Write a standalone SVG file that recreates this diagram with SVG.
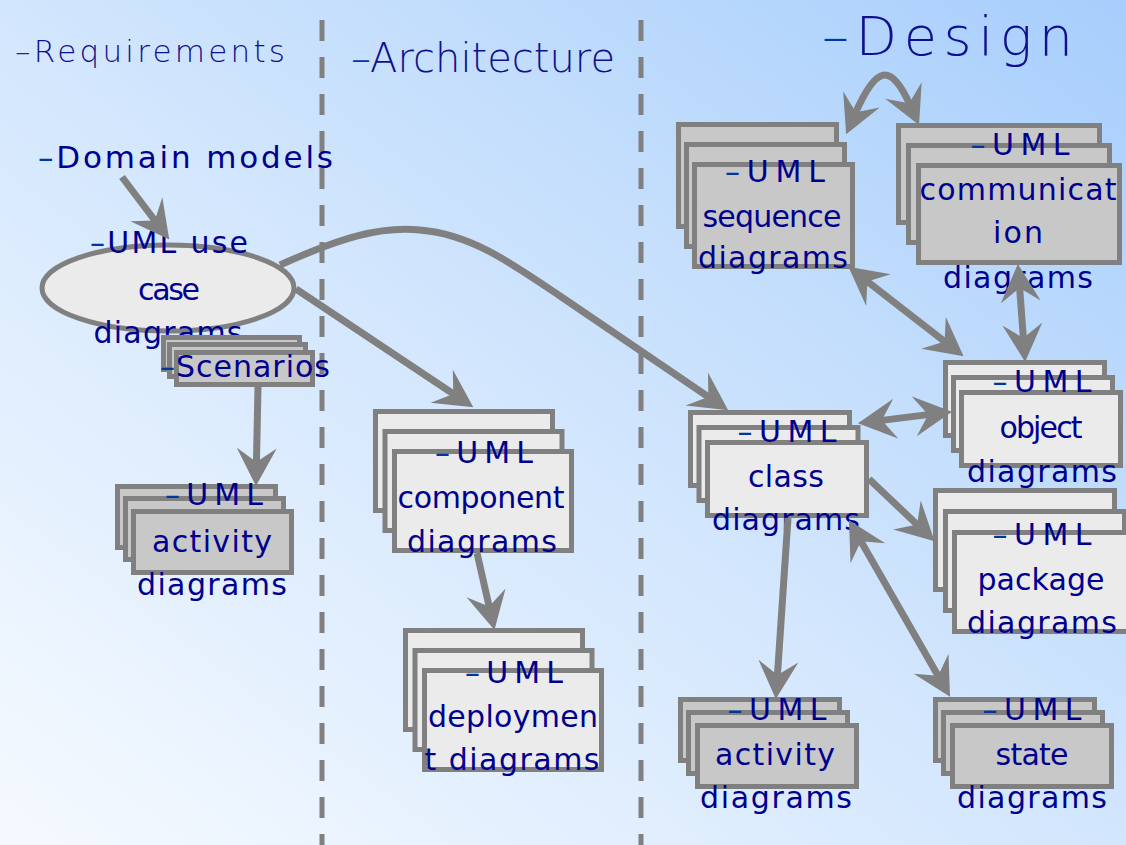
<svg xmlns="http://www.w3.org/2000/svg" width="1126" height="845" viewBox="0 0 1126 845">
  <defs>
    <linearGradient id="bg" x1="0" y1="1" x2="1" y2="0">
      <stop offset="0" stop-color="#f6faff"/>
      <stop offset="0.5" stop-color="#d2e6fd"/>
      <stop offset="1" stop-color="#a7cefc"/>
    </linearGradient>
    <marker id="ah" viewBox="0 0 38 42" refX="16" refY="21" markerWidth="38" markerHeight="42" markerUnits="userSpaceOnUse" orient="auto-start-reverse">
      <path d="M38,21 L0,1 L14,21 L0,41 Z" fill="#808080"/>
    </marker>
    <style>
      text { font-family: "DejaVu Sans", "Noto Sans", sans-serif; fill: #00008f; }
      .t { font-size: 30px; text-anchor: middle; }
      .title { font-weight: 200; fill: #10108f; }
      .dash { fill: #0036a0; }
      .sep { stroke: #808080; stroke-width: 5; stroke-dasharray: 21 16; fill: none; }
      .box { stroke: #808080; stroke-width: 5; }
      .gray { fill: #c8c8c8; }
      .light { fill: #ebebeb; }
      .conn path { stroke: #808080; stroke-width: 7; fill: none; }
      .one { marker-end: url(#ah); }
      .two { marker-start: url(#ah); marker-end: url(#ah); }
    </style>
  </defs>

  <!-- background and phase separators -->
  <rect x="0" y="0" width="1126" height="845" fill="url(#bg)"/>
  <line class="sep" x1="322" y1="20" x2="322" y2="845"/>
  <line class="sep" x1="641" y1="20" x2="641" y2="845"/>

  <!-- phase titles -->
  <g id="title-requirements">
    <text class="title" x="15" y="62" font-size="31" textLength="270" lengthAdjust="spacing"><tspan class="dash">–</tspan>Requirements</text>
  </g>
  <g id="title-architecture">
    <text class="title" x="351" y="72" font-size="40" textLength="264" lengthAdjust="spacing"><tspan class="dash">–</tspan>Architecture</text>
  </g>
  <g id="title-design">
    <text class="title" x="822" y="55" font-size="54" textLength="251" lengthAdjust="spacing"><tspan class="dash">–</tspan>Design</text>
  </g>

  <g id="domain-models">
    <text x="38" y="168" font-size="31" textLength="295" lengthAdjust="spacing"><tspan class="dash">–</tspan>Domain models</text>
  </g>

  <!-- Requirements -->
  <g id="use-case">
    <ellipse class="box light" cx="168" cy="288" rx="126" ry="43"/>
    <text class="t" x="169" y="253" textLength="158" lengthAdjust="spacing"><tspan class="dash">–</tspan>UML use</text>
    <text class="t" x="169" y="300" textLength="62" lengthAdjust="spacing">case</text>
    <text class="t" x="168" y="343" textLength="149" lengthAdjust="spacing">diagrams</text>
  </g>

  <g id="scenarios">
    <rect class="box gray" x="163.5" y="337.5" width="136" height="32"/>
    <rect class="box gray" x="169.5" y="344.5" width="136" height="32"/>
    <rect class="box gray" x="176.5" y="352.5" width="136" height="32"/>
    <text class="t" x="245" y="377" textLength="170" lengthAdjust="spacing"><tspan class="dash">–</tspan>Scenarios</text>
  </g>

  <g id="activity-req">
    <rect class="box gray" x="117.5" y="486.5" width="158" height="61"/>
    <rect class="box gray" x="125.5" y="498.5" width="158" height="61"/>
    <rect class="box gray" x="133.5" y="511.5" width="158" height="61"/>
    <text class="t" x="214" y="505" textLength="98" lengthAdjust="spacing"><tspan class="dash">–</tspan>UML</text>
    <text class="t" x="212" y="552" textLength="120" lengthAdjust="spacing">activity</text>
    <text class="t" x="212" y="595" textLength="150" lengthAdjust="spacing">diagrams</text>
  </g>

  <!-- Architecture -->
  <g id="component">
    <rect class="box light" x="375.5" y="411.5" width="177" height="99"/>
    <rect class="box light" x="385" y="431.5" width="177" height="99"/>
    <rect class="box light" x="394.5" y="451.5" width="177" height="99"/>
    <text class="t" x="484" y="463" textLength="98" lengthAdjust="spacing"><tspan class="dash">–</tspan>UML</text>
    <text class="t" x="481" y="508" textLength="167" lengthAdjust="spacing">component</text>
    <text class="t" x="482" y="552" textLength="150" lengthAdjust="spacing">diagrams</text>
  </g>

  <g id="deployment">
    <rect class="box light" x="405.5" y="630.5" width="177" height="99"/>
    <rect class="box light" x="415" y="650.5" width="177" height="99"/>
    <rect class="box light" x="424.5" y="670.5" width="177" height="99"/>
    <text class="t" x="514" y="683" textLength="98" lengthAdjust="spacing"><tspan class="dash">–</tspan>UML</text>
    <text class="t" x="513" y="727" textLength="170" lengthAdjust="spacing">deploymen</text>
    <text class="t" x="512" y="770" textLength="175" lengthAdjust="spacing">t diagrams</text>
  </g>

  <!-- Design -->
  <g id="sequence">
    <rect class="box gray" x="678.5" y="124.5" width="158" height="102"/>
    <rect class="box gray" x="686.5" y="144.5" width="158" height="102"/>
    <rect class="box gray" x="694.5" y="164.5" width="158" height="102"/>
    <text class="t" x="775" y="182" textLength="100" lengthAdjust="spacing"><tspan class="dash">–</tspan>UML</text>
    <text class="t" x="772" y="227" textLength="139" lengthAdjust="spacing">sequence</text>
    <text class="t" x="773" y="268" textLength="150" lengthAdjust="spacing">diagrams</text>
  </g>

  <g id="communication">
    <rect class="box gray" x="898.5" y="125.5" width="201" height="97"/>
    <rect class="box gray" x="908.5" y="145.5" width="201" height="97"/>
    <rect class="box gray" x="918.5" y="165.5" width="201" height="97"/>
    <text class="t" x="1020" y="155" textLength="99" lengthAdjust="spacing"><tspan class="dash">–</tspan>UML</text>
    <text class="t" x="1018" y="200" textLength="197" lengthAdjust="spacing">communicat</text>
    <text class="t" x="1018" y="243" textLength="50" lengthAdjust="spacing">ion</text>
    <text class="t" x="1018" y="288" textLength="150" lengthAdjust="spacing">diagrams</text>
  </g>

  <g id="class">
    <rect class="box light" x="690.5" y="412.5" width="159" height="73"/>
    <rect class="box light" x="699" y="427.5" width="159" height="73"/>
    <rect class="box light" x="707.5" y="442.5" width="159" height="73"/>
    <text class="t" x="787" y="442" textLength="99" lengthAdjust="spacing"><tspan class="dash">–</tspan>UML</text>
    <text class="t" x="786" y="487" textLength="76" lengthAdjust="spacing">class</text>
    <text class="t" x="786" y="530" textLength="148" lengthAdjust="spacing">diagrams</text>
  </g>

  <g id="object">
    <rect class="box light" x="945.5" y="362.5" width="159" height="73"/>
    <rect class="box light" x="953.5" y="377.5" width="159" height="73"/>
    <rect class="box light" x="961.5" y="392.5" width="159" height="73"/>
    <text class="t" x="1042" y="392" textLength="99" lengthAdjust="spacing"><tspan class="dash">–</tspan>UML</text>
    <text class="t" x="1041" y="438" textLength="83" lengthAdjust="spacing">object</text>
    <text class="t" x="1042" y="482" textLength="150" lengthAdjust="spacing">diagrams</text>
  </g>

  <g id="package">
    <rect class="box light" x="935.5" y="490.5" width="179" height="99"/>
    <rect class="box light" x="945.5" y="511.5" width="179" height="99"/>
    <rect class="box light" x="954.5" y="532.5" width="179" height="99"/>
    <text class="t" x="1042" y="545" textLength="99" lengthAdjust="spacing"><tspan class="dash">–</tspan>UML</text>
    <text class="t" x="1041" y="590" textLength="127" lengthAdjust="spacing">package</text>
    <text class="t" x="1042" y="633" textLength="150" lengthAdjust="spacing">diagrams</text>
  </g>

  <g id="activity-design">
    <rect class="box gray" x="680.5" y="699.5" width="159" height="61"/>
    <rect class="box gray" x="688.5" y="712.5" width="159" height="61"/>
    <rect class="box gray" x="697.5" y="725.5" width="159" height="61"/>
    <text class="t" x="777" y="720" textLength="99" lengthAdjust="spacing"><tspan class="dash">–</tspan>UML</text>
    <text class="t" x="775" y="765" textLength="120" lengthAdjust="spacing">activity</text>
    <text class="t" x="776" y="808" textLength="152" lengthAdjust="spacing">diagrams</text>
  </g>

  <g id="state">
    <rect class="box gray" x="935.5" y="699.5" width="159" height="61"/>
    <rect class="box gray" x="943.5" y="712.5" width="159" height="61"/>
    <rect class="box gray" x="952.5" y="725.5" width="159" height="61"/>
    <text class="t" x="1032" y="720" textLength="99" lengthAdjust="spacing"><tspan class="dash">–</tspan>UML</text>
    <text class="t" x="1032" y="765" textLength="73" lengthAdjust="spacing">state</text>
    <text class="t" x="1032" y="808" textLength="150" lengthAdjust="spacing">diagrams</text>
  </g>

  <!-- connectors -->
  <g id="connectors" class="conn">
    <path class="one" d="M122,177 L156,222"/>
    <path class="one" d="M280,265 C340,238 380,226 420,230 C470,234 510,262 560,296 L710,398"/>
    <path class="one" d="M296,289 L455,395"/>
    <path class="one" d="M258,387 L256.4,464"/>
    <path class="one" d="M477,553 L489.6,608.5"/>
    <path class="two" d="M855,114 C875,68.5 889.5,59.5 910,105"/>
    <path class="two" d="M865.8,280.3 L946.2,342.7"/>
    <path class="two" d="M1019.5,286 L1023.5,340"/>
    <path class="two" d="M879.8,420.6 L930.2,414.4"/>
    <path class="one" d="M869,479 L918.6,526"/>
    <path class="one" d="M788,518 L777.3,677"/>
    <path class="two" d="M859.9,539.4 L939.1,677.6"/>
  </g>
</svg>
